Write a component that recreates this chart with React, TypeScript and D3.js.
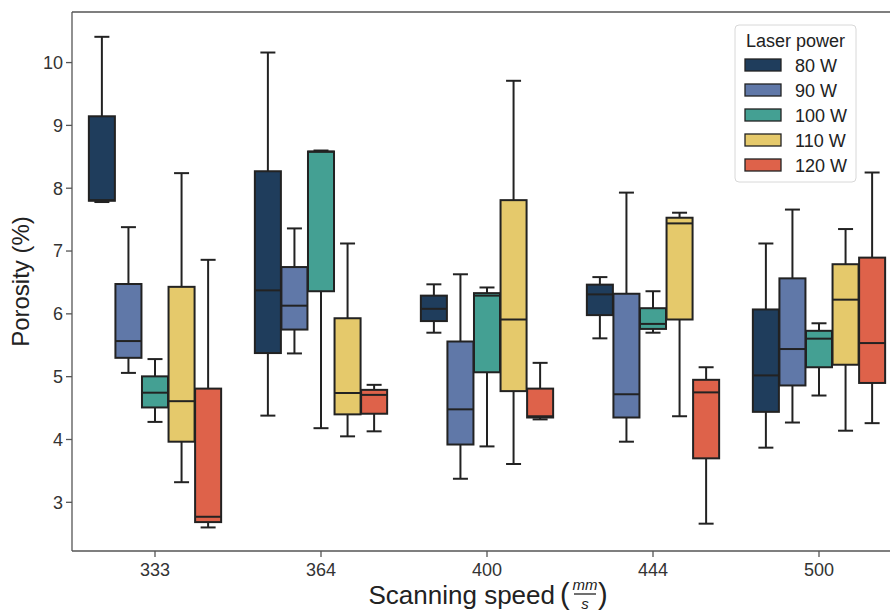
import React from "react";
import * as d3 from "d3";

// Scanning speeds (mm/s) on the x axis
const speeds = ["333", "364", "400", "444", "500"];
// Laser power groups (hue)
const powers = ["80 W", "90 W", "100 W", "110 W", "120 W"];
const powerColors = ["#1f3d5c", "#6078a8", "#44a093", "#e5c96b", "#de624a"];

// Box statistics per speed: [lower whisker, Q1, median, Q3, upper whisker]
const p80 = [
  [7.78, 7.8, 7.81, 9.145, 10.41],
  [4.38, 5.376, 6.374, 8.27, 10.16],
  [5.7, 5.885, 6.08, 6.29, 6.47],
  [5.61, 5.98, 6.31, 6.465, 6.585],
  [3.87, 4.44, 5.02, 6.07, 7.12],
];
const p90 = [
  [5.06, 5.3, 5.567, 6.475, 7.38],
  [5.37, 5.75, 6.13, 6.745, 7.36],
  [3.375, 3.92, 4.48, 5.56, 6.63],
  [3.965, 4.35, 4.72, 6.32, 7.93],
  [4.27, 4.86, 5.44, 6.565, 7.66],
];
const p100 = [
  [4.28, 4.51, 4.745, 5.005, 5.28],
  [4.18, 6.36, 8.58, 8.585, 8.6],
  [3.89, 5.07, 6.29, 6.33, 6.42],
  [5.7, 5.76, 5.84, 6.09, 6.36],
  [4.7, 5.15, 5.605, 5.73, 5.85],
];
const p110 = [
  [3.32, 3.965, 4.61, 6.43, 8.24],
  [4.05, 4.4, 4.74, 5.93, 7.12],
  [3.61, 4.77, 5.91, 7.81, 9.71],
  [4.37, 5.91, 7.44, 7.53, 7.61],
  [4.14, 5.19, 6.226, 6.79, 7.35],
];
const p120 = [
  [2.6, 2.685, 2.77, 4.81, 6.86],
  [4.13, 4.41, 4.71, 4.79, 4.87],
  [4.32, 4.35, 4.37, 4.81, 5.22],
  [2.66, 3.7, 4.75, 4.95, 5.15],
  [4.26, 4.9, 5.535, 6.895, 8.25],
];
const seriesStats = [p80, p90, p100, p110, p120];

const yTicks = [3, 4, 5, 6, 7, 8, 9, 10];

const W = 890;
const H = 612;
const plot = { left: 72, right: 902, top: 12, bottom: 551 };
const font = "'Liberation Sans', Arial, Helvetica, sans-serif";
const edge = "#222222";

export default function App() {
  const x = d3.scaleBand().domain(speeds).range([plot.left, plot.right]).padding(0);
  const inner = d3
    .scaleBand()
    .domain(powers)
    .range([-x.bandwidth() * 0.4, x.bandwidth() * 0.4])
    .padding(0);
  const y = d3.scaleLinear().domain([2.225, 10.805]).range([plot.bottom, plot.top]);

  const boxW = inner.bandwidth() * 0.98;
  const capW = 15;

  return (
    <svg
      width={W}
      height={H}
      style={{ position: "absolute", left: 0, top: 0, background: "#fff" }}
      fontFamily={font}
    >
      <defs>
        <clipPath id="plotClip">
          <rect x={plot.left} y={0} width={W - plot.left} height={H} />
        </clipPath>
      </defs>

      {/* boxes */}
      <g clipPath="url(#plotClip)">
        {seriesStats.map((stats, si) =>
          stats.map((s, ci) => {
            const cx = (x(speeds[ci]) as number) + x.bandwidth() / 2 + (inner(powers[si]) as number) + inner.bandwidth() / 2;
            const [lo, q1, med, q3, hi] = s;
            return (
              <g key={`${si}-${ci}`} stroke={edge} strokeWidth={2}>
                <line x1={cx} x2={cx} y1={y(q3)} y2={y(hi)} />
                <line x1={cx} x2={cx} y1={y(q1)} y2={y(lo)} />
                <line x1={cx - capW / 2} x2={cx + capW / 2} y1={y(hi)} y2={y(hi)} />
                <line x1={cx - capW / 2} x2={cx + capW / 2} y1={y(lo)} y2={y(lo)} />
                <rect
                  x={cx - boxW / 2}
                  y={y(q3)}
                  width={boxW}
                  height={Math.max(0.5, y(q1) - y(q3))}
                  fill={powerColors[si]}
                />
                <line x1={cx - boxW / 2} x2={cx + boxW / 2} y1={y(med)} y2={y(med)} />
              </g>
            );
          })
        )}
      </g>

      {/* spines */}
      <g stroke="#555" strokeWidth={1.3} fill="none">
        <line x1={plot.left} x2={plot.left} y1={plot.top} y2={plot.bottom} />
        <line x1={plot.left} x2={W} y1={plot.top} y2={plot.top} />
        <line x1={plot.left} x2={W} y1={plot.bottom} y2={plot.bottom} />
      </g>

      {/* y axis */}
      {yTicks.map((t) => (
        <g key={t}>
          <line x1={plot.left - 6} x2={plot.left} y1={y(t)} y2={y(t)} stroke="#555" strokeWidth={1.3} />
          <text x={plot.left - 9} y={y(t)} dy="0.35em" textAnchor="end" fontSize={18} fill="#333">
            {t}
          </text>
        </g>
      ))}

      {/* x axis */}
      {speeds.map((s) => {
        const cx = (x(s) as number) + x.bandwidth() / 2;
        return (
          <g key={s}>
            <line x1={cx} x2={cx} y1={plot.bottom} y2={plot.bottom + 6} stroke="#555" strokeWidth={1.3} />
            <text x={cx} y={plot.bottom + 25} textAnchor="middle" fontSize={18} fill="#333">
              {s}
            </text>
          </g>
        );
      })}

      {/* axis titles */}
      <text
        transform={`translate(29, ${(plot.top + plot.bottom) / 2}) rotate(-90)`}
        textAnchor="middle"
        fontSize={24}
        fill="#222"
      >
        Porosity (%)
      </text>
      <g fill="#222">
        <text x={555} y={604} textAnchor="end" fontSize={26}>
          Scanning speed
        </text>
        <text x={560} y={604} fontSize={29} fontWeight={300}>
          (
        </text>
        <text x={585} y={590} textAnchor="middle" fontSize={15} fontStyle="italic">
          mm
        </text>
        <line x1={574} x2={596} y1={594} y2={594} stroke="#222" strokeWidth={1.3} />
        <text x={585} y={609} textAnchor="middle" fontSize={15} fontStyle="italic">
          s
        </text>
        <text x={598} y={604} fontSize={29} fontWeight={300}>
          )
        </text>
      </g>

      {/* legend */}
      <g>
        <rect x={735} y={25} width={121} height={157} rx={4} fill="#fff" fillOpacity={0.85} stroke="#d8d8d8" strokeWidth={1} />
        <text x={795.5} y={47} textAnchor="middle" fontSize={18} fill="#222">
          Laser power
        </text>
        {powers.map((p, i) => (
          <g key={p} transform={`translate(0, ${i * 25})`}>
            <rect x={745} y={59} width={36} height={12} fill={powerColors[i]} stroke={edge} strokeWidth={1.3} />
            <text x={795} y={71.5} fontSize={18} fill="#222">
              {p}
            </text>
          </g>
        ))}
      </g>
    </svg>
  );
}
